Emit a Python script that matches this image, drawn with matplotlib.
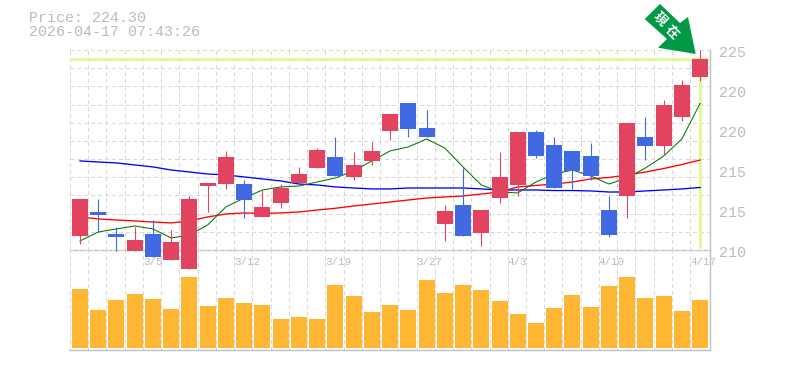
import numpy as np
import matplotlib
matplotlib.use("Agg")
import matplotlib.pyplot as plt
from matplotlib.patches import Polygon
from matplotlib.transforms import Affine2D

################################################
## Data

opens = [211.05, 212.85, 211.20, 209.93, 211.20, 209.25, 208.58, 214.80, 214.95, 214.95,
         212.48, 213.53, 215.03, 216.15, 216.98, 215.48, 216.68, 218.93, 221.03, 219.15,
         211.95, 213.38, 211.28, 213.90, 214.88, 218.85, 217.88, 217.43, 217.05, 213.00,
         214.05, 218.48, 217.80, 219.98, 222.98]
closes = [213.83, 212.63, 210.98, 210.75, 209.48, 210.60, 213.83, 215.03, 216.98, 213.75,
          213.23, 214.65, 215.70, 217.50, 215.55, 216.38, 217.43, 220.20, 219.08, 218.48,
          212.93, 211.05, 213.00, 215.48, 218.85, 217.05, 214.65, 215.93, 215.55, 211.13,
          219.53, 217.80, 220.88, 222.38, 224.33]
highs = [213.83, 213.83, 211.73, 211.73, 212.25, 211.50, 214.05, 215.03, 217.43, 215.25,
         214.50, 214.95, 216.23, 217.65, 218.48, 217.35, 218.10, 220.20, 221.03, 220.50,
         213.38, 216.15, 213.00, 217.35, 218.85, 219.00, 218.48, 217.43, 218.03, 214.05,
         219.53, 219.98, 221.25, 222.75, 225.00]
lows = [210.45, 211.35, 209.93, 209.93, 209.48, 209.25, 208.58, 212.85, 214.58, 212.40,
        212.48, 213.15, 215.03, 216.15, 215.55, 215.25, 216.38, 218.25, 218.48, 218.48,
        210.68, 211.05, 210.30, 213.53, 214.05, 216.90, 214.65, 214.58, 215.25, 210.98,
        212.40, 216.75, 217.13, 219.68, 222.68]

ma_short = [210.68, 211.35, 211.58, 211.80, 211.58, 210.90, 211.13, 211.88, 213.23, 213.90,
            214.50, 214.73, 214.80, 215.10, 215.40, 215.93, 216.68, 217.43, 217.73, 218.33,
            217.65, 216.23, 214.88, 214.35, 214.28, 215.10, 215.70, 216.00, 215.55, 214.95,
            215.40, 216.15, 217.05, 218.33, 221.00]
ma_mid = [212.48, 212.33, 212.25, 212.18, 212.10, 212.03, 212.18, 212.48, 212.70, 212.78,
          212.74, 212.78, 212.85, 213.00, 213.13, 213.30, 213.45, 213.60, 213.75, 213.90,
          213.98, 214.05, 214.20, 214.35, 214.73, 214.84, 214.95, 215.10, 215.33, 215.44,
          215.63, 215.85, 216.11, 216.41, 216.75]
ma_long = [216.68, 216.60, 216.53, 216.38, 216.23, 216.00, 215.85, 215.70, 215.63, 215.48,
           215.33, 215.18, 214.95, 214.88, 214.73, 214.65, 214.58, 214.58, 214.65, 214.65,
           214.65, 214.65, 214.58, 214.50, 214.50, 214.50, 214.46, 214.46, 214.43, 214.35,
           214.35, 214.43, 214.50, 214.58, 214.69]

volumes = [59, 38, 48, 54, 49, 39, 71, 42, 50, 45, 43, 29, 31, 29, 63, 52, 36, 43,
           38, 68, 55, 63, 58, 47, 34, 25, 40, 53, 41, 62, 71, 50, 52, 37, 48]

date_idx = [4, 9, 14, 19, 24, 29, 34]
date_labels = ["3/5", "3/12", "3/19", "3/27", "4/3", "4/10", "4/17"]
price_ticks = [225, 222, 219, 216, 213, 210]
price_labels = ["225", "220", "220", "215", "215", "210"]
last_price = 224.30
title_lines = "Price: 224.30\n2026-04-17 07:43:26"
arrow_chars = ["現", "在"]

################################################
## Layout and colours

W, H = 785, 370
UP = "#E2435F"
DOWN = "#4169E1"
VOL = "#FFB733"
GRID = "#D8D8D8"
FRAME = "#C0C0C0"
TEXT = "#BBBBBB"
LAST = "#E3F6A0"
ARROW = "#009944"
mono = "Liberation Mono"


def box(left, top, right, bottom):
    # pixel box -> figure fraction
    return [left / W, 1 - bottom / H, (right - left) / W, (bottom - top) / H]


fig = plt.figure(figsize=(W / 100, H / 100), dpi=100)
ax = fig.add_axes(box(70, 50, 710, 250))
axv = fig.add_axes(box(70, 250, 710, 350))
xlim = (-0.548, 34.54)
n = len(opens)
xval = np.arange(n)

for a in (ax, axv):
    a.set_xlim(xlim)
    a.set_xticks([])
    a.set_yticks([])
    a.patch.set_alpha(0)
    for s in a.spines.values():
        s.set_visible(False)
    for k in range(n):
        a.axvline(k - 0.548, color=GRID, lw=0.72, ls=(0, (3, 3)), zorder=0,
                  antialiased=False, clip_on=False)

ax.set_ylim(210, 225)
axv.set_ylim(-2, 98)
ax.set_zorder(3)

## Price panel
for y in np.linspace(210, 225, 12):
    ax.axhline(y, color=GRID, lw=0.72, ls=(0, (3, 3)), zorder=0, antialiased=False,
               clip_on=False)

ax.axhline(last_price, color=LAST, lw=2.3, zorder=1)
ax.plot([xval[-1], xval[-1]], [210.15, last_price], color=LAST, lw=2.3, zorder=1,
        solid_capstyle="butt")

ax.plot(xval, ma_long, color="#0000FF", lw=0.95, zorder=2, clip_on=False)
ax.plot(xval, ma_mid, color="#FF0000", lw=0.95, zorder=2, clip_on=False)
ax.plot(xval, ma_short, color="#007700", lw=0.75, zorder=2, clip_on=False)

for i in range(n):
    cc = UP if closes[i] >= opens[i] else DOWN
    ax.plot([i, i], [lows[i], highs[i]], color=cc, lw=0.8, zorder=3, clip_on=False,
            solid_capstyle="butt")
    bottom = min(opens[i], closes[i])
    ax.bar(i, abs(closes[i] - opens[i]), bottom=bottom, width=16 / 18.24, color=cc,
           zorder=4, clip_on=False, linewidth=0)

## Volume panel
axv.bar(xval, volumes, width=16 / 18.24, color=VOL, linewidth=0, zorder=3)

## Frame
axv.axhline(98, color=FRAME, lw=1, zorder=2, clip_on=False)
axv.axhline(-2, color=FRAME, lw=1, zorder=2, clip_on=False)
ax.axvline(xlim[1], color=FRAME, lw=1, zorder=2, clip_on=False)
axv.axvline(xlim[1], color=FRAME, lw=1, zorder=2, clip_on=False)

## Text
for idx, lab in zip(date_idx, date_labels):
    axv.text(idx - 0.548, 86, lab, color=TEXT, fontsize=7.8, family=mono,
             ha="left", va="center", clip_on=False, zorder=5)
for tick, lab in zip(price_ticks, price_labels):
    ax.annotate(lab, xy=(1, tick), xycoords=ax.get_yaxis_transform(), xytext=(6.5, -2.4),
                textcoords="offset points", color=TEXT, fontsize=10.8, family=mono,
                ha="left", va="center", annotation_clip=False)

fig.text(29 / W, 1 - 39 / H, title_lines, color=TEXT, fontsize=10.8, family=mono,
         ha="left", va="bottom", linespacing=0.98)

## Arrow (pixel offsets from its tip)
tip = (695.7, H - 54)
offsets = np.array([(0, 0), (-37.7, 6.3), (-28.7, 15), (-51, 35), (-35.7, 50),
                    (-15.7, 31), (-7.7, 37)])
pts = np.array(tip) + offsets
arrow = Polygon(pts, closed=True, facecolor=ARROW, edgecolor="none",
                transform=Affine2D().scale(1 / W, 1 / H) + fig.transFigure, zorder=6)
fig.add_artist(arrow)
for ch, (px, py) in zip(arrow_chars, [(660, 19), (672, 32)]):
    fig.text(px / W, 1 - py / H, ch, color="white", fontsize=9.5, fontweight="bold",
             family=["Noto Sans CJK JP", "DejaVu Sans"], rotation=-45, rotation_mode="anchor",
             ha="center", va="center", zorder=7)

fig.savefig("out.png", dpi=100)
plt.close("all")
